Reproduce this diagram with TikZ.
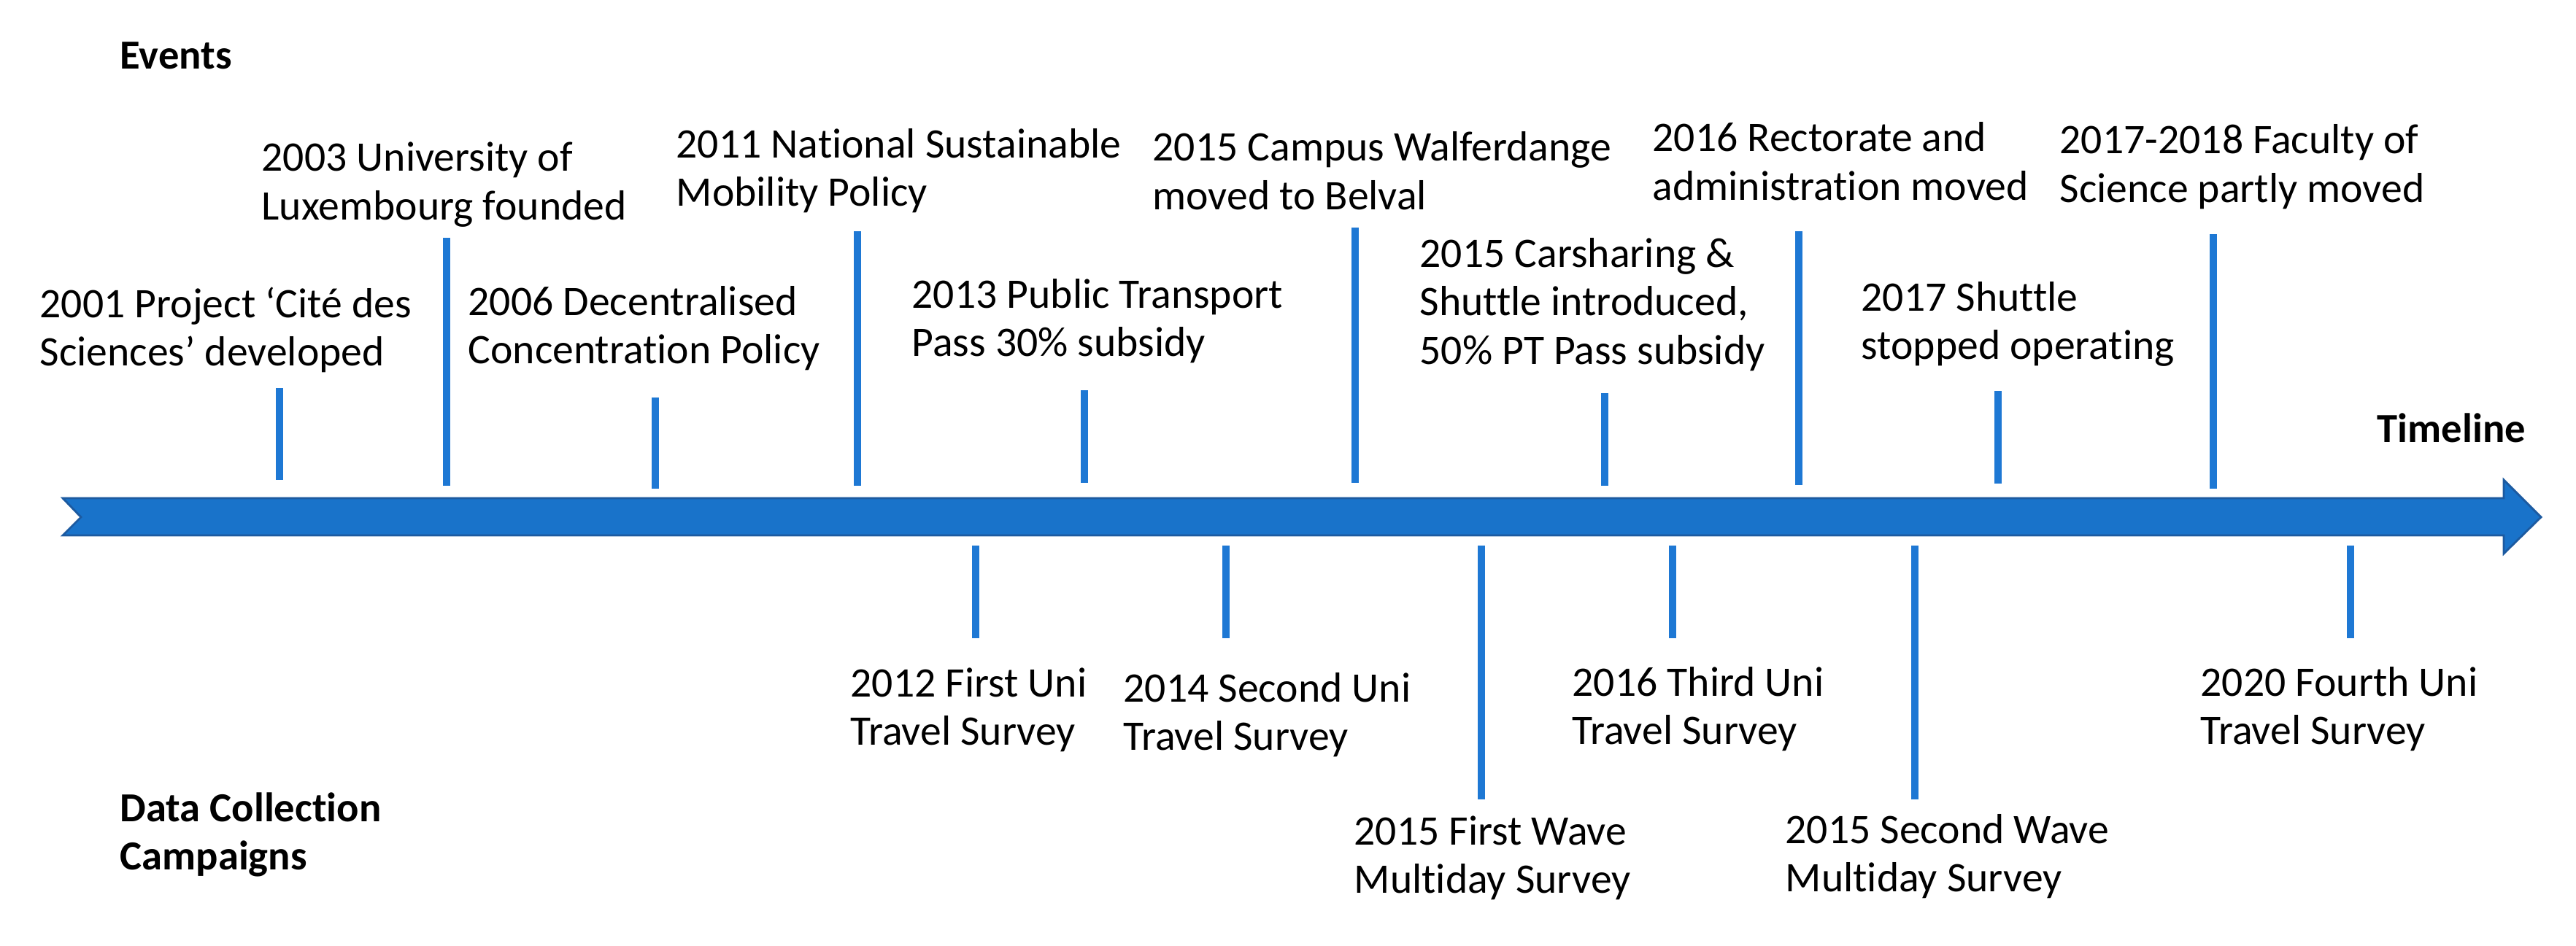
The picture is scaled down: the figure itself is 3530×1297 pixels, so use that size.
\documentclass[tikz,border=0pt]{standalone}
\usepackage{fontspec}
\setmainfont{Carlito}[Ligatures=NoCommon]
\definecolor{bandblue}{RGB}{25,115,202}
\definecolor{banddark}{RGB}{28,90,160}
\definecolor{tickblue}{RGB}{30,120,212}
\newcommand{\lblstack}[1]{\begin{tabular}[t]{@{}l@{}}#1\end{tabular}}
\begin{document}
\begin{tikzpicture}[x=0.01cm,y=-0.01cm,
  lbl/.style={anchor=base west, inner sep=0pt, font=\fontsize{16.4pt}{19.0pt}\selectfont},
  hdr/.style={lbl, font=\fontsize{16.1pt}{19.0pt}\selectfont\bfseries},
  tickline/.style={draw=tickblue, line width=3.1pt}]
\useasboundingbox (0,0) rectangle (3530,1297);

% timeline band
\filldraw[fill=bandblue, draw=banddark, line width=0.8pt]
  (86,683) -- (3431,683) -- (3431,658) -- (3482,709) -- (3431,759)
  -- (3431,734) -- (86,734) -- (111,709) -- cycle;

% headers
\node[hdr] (events) at (164,95) {Events};
\node[hdr] (dcc) at (164,1126) {\lblstack{Data Collection\\Campaigns}};
\node[hdr] (timeline) at (3257,606) {Timeline};

% event labels
\node[lbl] (e2001) at (54,435) {\lblstack{2001 Project ‘Cité des\\Sciences’ developed}};
\node[lbl] (e2003) at (358,235) {\lblstack{2003 University of\\Luxembourg founded}};
\node[lbl] (e2006) at (641,432) {\lblstack{2006 Decentralised\\Concentration Policy}};
\node[lbl] (e2011) at (926,216) {\lblstack{2011 National Sustainable\\Mobility Policy}};
\node[lbl] (e2013) at (1249,422) {\lblstack{2013 Public Transport\\Pass 30\% subsidy}};
\node[lbl] (e2015a) at (1579,221) {\lblstack{2015 Campus Walferdange\\moved to Belval}};
\node[lbl] (e2015b) at (1945,366) {\lblstack{2015 Carsharing \&\\Shuttle introduced,\\50\% PT Pass subsidy}};
\node[lbl] (e2016) at (2264,208) {\lblstack{2016 Rectorate and\\administration moved}};
\node[lbl] (e2017) at (2550,426) {\lblstack{2017 Shuttle\\stopped operating}};
\node[lbl] (e2018) at (2822,211) {\lblstack{2017-2018 Faculty of\\Science partly moved}};

% data collection labels
\node[lbl] (d2012) at (1165,955) {\lblstack{2012 First Uni\\Travel Survey}};
\node[lbl] (d2014) at (1539,962) {\lblstack{2014 Second Uni\\Travel Survey}};
\node[lbl] (d2015a) at (1855,1158) {\lblstack{2015 First Wave\\Multiday Survey}};
\node[lbl] (d2016) at (2154,954) {\lblstack{2016 Third Uni\\Travel Survey}};
\node[lbl] (d2015b) at (2446,1156) {\lblstack{2015 Second Wave\\Multiday Survey}};
\node[lbl] (d2020) at (3015,954) {\lblstack{2020 Fourth Uni\\Travel Survey}};

% event ticks (above)
\foreach \n/\x/\t/\b in {a/383/532/658, b/612/326/666, c/898/545/670, d/1175/317/666, e/1486/535/662,
                     f/1857/312/662, g/2199/539/666, h/2465/317/665, i/2738/536/663, j/3033/321/670}{
  \coordinate (up\n top) at (\x,\t);
  \coordinate (up\n bot) at (\x,\b);
  \draw[tickline] (up\n top) -- (up\n bot);
}
% data ticks (below)
\foreach \n/\x/\b in {a/1337/875, b/1680/875, c/2030/1096, d/2292/875, e/2624/1096, f/3221/875}{
  \coordinate (dn\n top) at (\x,748);
  \coordinate (dn\n bot) at (\x,\b);
  \draw[tickline] (dn\n top) -- (dn\n bot);
}
\end{tikzpicture}
\end{document}
